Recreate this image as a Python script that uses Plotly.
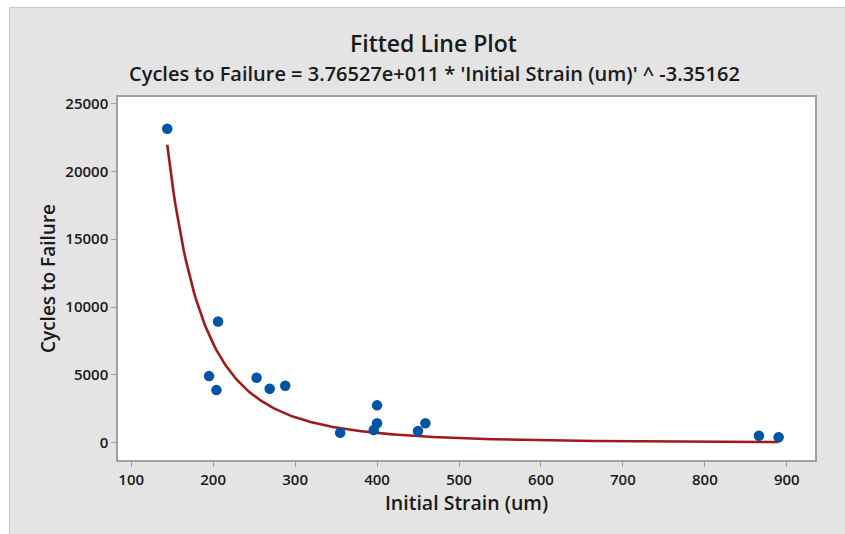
import numpy as np
import plotly.graph_objects as go

# Observed specimens
initial_strain = [144, 195, 204, 206, 253, 269, 288, 355, 396, 400, 400, 450, 459, 866, 890]
cycles_to_failure = [23150, 4910, 3880, 8940, 4790, 3980, 4200, 740, 935, 1430, 2755, 860, 1430, 515, 400]

# Power-law fit: Cycles = A * Strain ^ B
fit_coef = 3.76527e11
fit_exp = -3.35162

x_ticks = [100, 200, 300, 400, 500, 600, 700, 800, 900]
y_ticks = [0, 5000, 10000, 15000, 20000, 25000]

fit_x = np.linspace(min(initial_strain), max(initial_strain), 300)
fit_y = fit_coef * fit_x ** fit_exp

FONT = "Open Sans"
W, H = 845, 534
ML, MR, MT, MB = 118, 30, 97, 74
PW, PH = W - ML - MR, H - MT - MB


def px_x(px):
    return (px - ML) / PW


def px_y(py):
    return (H - MB - py) / PH


fig = go.Figure()

fig.add_trace(go.Scatter(
    x=fit_x, y=fit_y, mode="lines",
    line=dict(color="#9E1B1B", width=2.6),
    hoverinfo="skip", showlegend=False,
))
fig.add_trace(go.Scatter(
    x=initial_strain, y=cycles_to_failure, mode="markers",
    marker=dict(color="#0054A6", size=10.5, line=dict(width=0)),
    showlegend=False,
))

axis_common = dict(
    showgrid=False, zeroline=False,
    showline=True, linecolor="#A0A0A0", linewidth=1.5, mirror=True,
    ticks="outside", ticklen=5, tickcolor="#A0A0A0", tickwidth=1,
    tickfont=dict(family=FONT, size=15, color="#1a1a1a", weight=600),
)

fig.update_xaxes(
    range=[83.9, 934.4], tickvals=x_ticks, tickformat="d",
    title=dict(text="Initial Strain (um)", standoff=8,
               font=dict(family=FONT, size=19.5, color="#1a1a1a", weight=600)),
    **axis_common,
)
fig.update_yaxes(
    range=[-1274, 25486], tickvals=y_ticks, tickformat="d",
    title=dict(text="Cycles to Failure", standoff=5,
               font=dict(family=FONT, size=19, color="#1a1a1a", weight=600)),
    **axis_common,
)

# Outer frame: white strip at top/left, thin border around the grey panel
shapes = [
    dict(type="rect", xref="paper", yref="paper", layer="below",
         x0=px_x(-2), x1=px_x(W + 2), y0=px_y(7.5), y1=px_y(-2),
         fillcolor="white", line=dict(width=0)),
    dict(type="rect", xref="paper", yref="paper", layer="below",
         x0=px_x(-2), x1=px_x(9.5), y0=px_y(H + 2), y1=px_y(-2),
         fillcolor="white", line=dict(width=0)),
    dict(type="line", xref="paper", yref="paper", layer="below",
         x0=px_x(9.5), x1=px_x(W + 2), y0=px_y(7.5), y1=px_y(7.5),
         line=dict(color="#CACACA", width=1.2)),
    dict(type="line", xref="paper", yref="paper", layer="below",
         x0=px_x(9.5), x1=px_x(9.5), y0=px_y(7.5), y1=px_y(H + 2),
         line=dict(color="#CACACA", width=1.2)),
]

annotations = [
    dict(text="Fitted Line Plot", xref="paper", yref="paper",
         x=px_x(433), y=px_y(43), xanchor="center", yanchor="middle",
         showarrow=False, font=dict(family=FONT, size=23, color="#1a1a1a", weight=600)),
    dict(text="Cycles to Failure = 3.76527e+011 * 'Initial Strain (um)' ^ -3.35162",
         xref="paper", yref="paper",
         x=px_x(434), y=px_y(73), xanchor="center", yanchor="middle",
         showarrow=False, font=dict(family=FONT, size=20, color="#1a1a1a", weight=600)),
]

fig.update_layout(
    width=W, height=H,
    margin=dict(l=ML, r=MR, t=MT, b=MB),
    paper_bgcolor="#E4E4E4", plot_bgcolor="white",
    shapes=shapes, annotations=annotations,
    showlegend=False,
)

fig.write_html("out.html")
